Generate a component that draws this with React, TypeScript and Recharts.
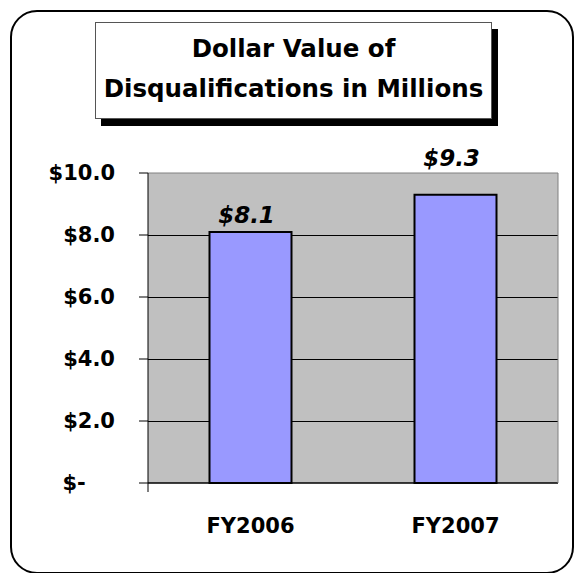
import React from 'react';
import {
  BarChart,
  Bar,
  XAxis,
  YAxis,
  CartesianGrid,
  ReferenceLine,
  LabelList,
} from 'recharts';

// ---------------------------------------------------------------------------
// Data
// ---------------------------------------------------------------------------

const years = ['FY2006', 'FY2007'];
const values = [8.1, 9.3];
const yTicks = [0, 2, 4, 6, 8, 10];
const gridValues = [2, 4, 6, 8];
const edgeTicks = [0, 1, 2];

const data = years.map((year, i) => ({ year, value: values[i] }));

// ---------------------------------------------------------------------------
// Styles
// ---------------------------------------------------------------------------

const FONT = '"DejaVu Sans", "Liberation Sans", Arial, sans-serif';
const PLOT_FILL = '#C0C0C0';
const BAR_FILL = '#9999FF';
// distance between bar top and its value label, per bar
const labelGap = [9, 29];

function formatMoney(v: number): string {
  // accounting style: zero shows as a dash, "$" kept at the left
  if (v === 0) return '$-\u00A0\u00A0\u00A0\u00A0';
  return `$${v.toFixed(1)}`;
}

function ValueLabel(props: any) {
  const { x, y, width, value, index } = props;
  return (
    <text
      x={Number(x) + Number(width) / 2 - 4}
      y={Number(y) - labelGap[index ?? 0]}
      textAnchor="middle"
      fontFamily={FONT}
      fontSize={23}
      fontWeight="bold"
      fontStyle="italic"
      fill="#000"
    >
      {`$${Number(value).toFixed(1)}`}
    </text>
  );
}

export default function App() {
  return (
    <div
      style={{
        position: 'absolute',
        left: 0,
        top: 0,
        width: 574,
        height: 573,
        background: '#fff',
        fontFamily: FONT,
      }}
    >
      {/* rounded outer frame */}
      <div
        style={{
          position: 'absolute',
          left: 10,
          top: 10,
          width: 560,
          height: 560,
          border: '2px solid #000',
          borderRadius: 27,
        }}
      />

      <BarChart
        width={574}
        height={573}
        data={data}
        margin={{ top: 173, right: 15, bottom: 41, left: 0 }}
        barCategoryGap="30%"
        style={{ position: 'absolute', left: 0, top: 0 }}
      >
        <CartesianGrid
          xAxisId="b"
          yAxisId="left"
          vertical={false}
          horizontalValues={gridValues}
          fill={PLOT_FILL}
          fillOpacity={1}
          stroke="#000"
          strokeWidth={1}
          shapeRendering="crispEdges"
        />
        <XAxis
          xAxisId="b"
          dataKey="year"
          height={40}
          axisLine={false}
          tickLine={false}
          tickSize={0}
          tickMargin={26}
          tick={{ fontSize: 21, fontWeight: 'bold', fill: '#000', fontFamily: FONT }}
        />
        <XAxis
          xAxisId="a"
          type="number"
          domain={[0, 2]}
          ticks={edgeTicks}
          height={9}
          tickSize={9}
          tick={() => <g />}
          axisLine={{ stroke: '#000', strokeWidth: 1.5 }}
          tickLine={{ stroke: '#000' }}
        />
        <YAxis
          yAxisId="left"
          domain={[0, 10]}
          ticks={yTicks}
          width={148}
          tickSize={9}
          tickMargin={24}
          tickFormatter={formatMoney}
          axisLine={{ stroke: '#000' }}
          tickLine={{ stroke: '#000' }}
          tick={{ fontSize: 21, fontWeight: 'bold', fill: '#000', fontFamily: FONT }}
        />
        <YAxis
          yAxisId="right"
          orientation="right"
          domain={[0, 10]}
          width={1}
          tick={false}
          tickLine={false}
          axisLine={{ stroke: '#808080' }}
        />
        <ReferenceLine xAxisId="b" yAxisId="left" y={10} stroke="#808080" />
        <Bar
          xAxisId="b"
          yAxisId="left"
          dataKey="value"
          fill={BAR_FILL}
          stroke="#000"
          strokeWidth={2}
          isAnimationActive={false}
        >
          <LabelList dataKey="value" content={ValueLabel} />
        </Bar>
      </BarChart>

      {/* title box with drop shadow */}
      <div
        style={{
          position: 'absolute',
          left: 95,
          top: 22,
          width: 395,
          height: 89,
          border: '1px solid #555',
          background: '#fff',
          boxShadow: '6px 7px 0 0 #000',
          textAlign: 'center',
          fontSize: 24.5,
          fontWeight: 'bold',
          lineHeight: '40px',
          paddingTop: 5.5,
          boxSizing: 'content-box',
          color: '#000',
        }}
      >
        <div>Dollar Value of</div>
        <div>Disqualifications in Millions</div>
      </div>
    </div>
  );
}
